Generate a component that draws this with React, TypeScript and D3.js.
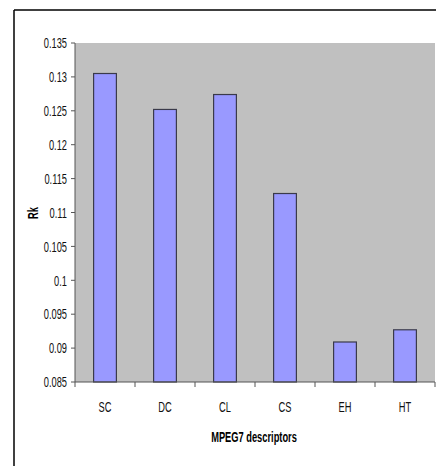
import React from "react";
import * as d3 from "d3";

const categories = ["SC", "DC", "CL", "CS", "EH", "HT"];
const values = [0.1305, 0.1252, 0.1274, 0.1128, 0.0909, 0.0927];
const yTicks = [0.085, 0.09, 0.095, 0.1, 0.105, 0.11, 0.115, 0.12, 0.125, 0.13, 0.135];
const yLabel = "Rk";
const xLabel = "MPEG7 descriptors";

const FONT = "'Liberation Sans', Arial, sans-serif";
const SX = 0.62;

function NText(props: { x: number; y: number; anchor: string; bold?: boolean; rotate?: boolean; size?: number; children: React.ReactNode }) {
  const { x, y, anchor, bold, rotate, size = 15, children } = props;
  const tr = `translate(${x},${y})${rotate ? " rotate(-90)" : ""} scale(${SX},1)`;
  return (
    <text transform={tr} dy="0.35em" textAnchor={anchor} fontFamily={FONT} fontSize={size}
      fontWeight={bold ? "bold" : "normal"} fill={bold ? "#000" : "#111"}>{children}</text>
  );
}

export default function App() {
  const W = 436, H = 466;
  const left = 75, right = 435, top = 43, bottom = 382;
  const x = d3.scaleBand<string>().domain(categories).range([left, right]).paddingInner(0.62).paddingOuter(0.31);
  const xCat = d3.scaleBand<string>().domain(categories).range([left, right]);
  const y = d3.scaleLinear().domain([0.085, 0.135]).range([bottom, top]);
  const fmt = (v: number) => String(+v.toFixed(3));
  return (
    <svg width={W} height={H} style={{ position: "absolute", left: 0, top: 0 }}>
      <rect x={0} y={0} width={W} height={H} fill="#fff" />
      <line x1={14} y1={10} x2={436} y2={10} stroke="#000" strokeWidth={1.5} />
      <line x1={14} y1={10} x2={14} y2={466} stroke="#000" strokeWidth={1.5} />
      <rect x={left} y={top} width={right - left} height={bottom - top} fill="#C0C0C0" />
      {categories.map((c, i) => (
        <rect key={c} x={x(c)} y={y(values[i])} width={x.bandwidth()} height={bottom - y(values[i])}
          fill="#9999FF" stroke="#3a3a4a" strokeWidth={1.2} />
      ))}
      <line x1={left} y1={top} x2={left} y2={bottom} stroke="#555" strokeWidth={1} />
      <line x1={left} y1={bottom} x2={right} y2={bottom} stroke="#555" strokeWidth={1} />
      {yTicks.map(t => (
        <g key={t}>
          <line x1={left - 4} x2={left} y1={y(t)} y2={y(t)} stroke="#555" />
          <NText x={left - 8} y={y(t)} anchor="end">{fmt(t)}</NText>
        </g>
      ))}
      {[...categories.map(c => xCat(c) as number), right].map((p, i) => (
        <line key={i} x1={p} x2={p} y1={bottom} y2={bottom + 5} stroke="#555" />
      ))}
      {categories.map(c => (
        <NText key={c} x={(xCat(c) as number) + xCat.bandwidth() / 2} y={407} anchor="middle">{c}</NText>
      ))}
      <NText x={254} y={437} anchor="middle" bold>{xLabel}</NText>
      <NText x={33} y={213} anchor="middle" bold rotate>{yLabel}</NText>
    </svg>
  );
}
